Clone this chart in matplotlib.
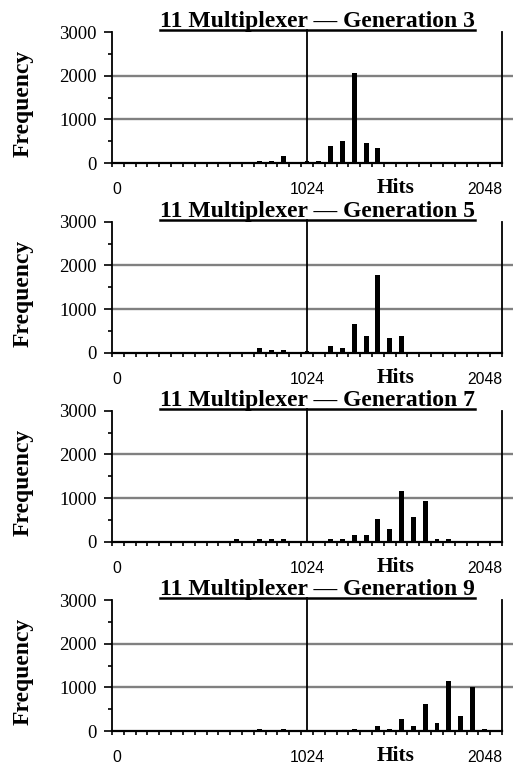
import matplotlib.pyplot as plt
from matplotlib.lines import Line2D

# hit-count bins (category centres, 64 hits apart)
hits = list(range(0, 2049, 64))
generations = [3, 5, 7, 9]

gen3 = [0, 0, 0, 0, 0, 0, 0, 0, 0, 0, 8, 8, 50, 50, 150, 8, 45, 50,
        380, 510, 2060, 465, 335, 8, 0, 0, 0, 0, 0, 0, 0, 0, 0]
gen5 = [0, 0, 0, 0, 0, 0, 0, 0, 0, 0, 8, 8, 100, 60, 55, 8, 40, 10,
        160, 115, 660, 390, 1790, 345, 390, 8, 0, 0, 0, 0, 0, 0, 0]
gen7 = [0, 0, 0, 0, 0, 0, 0, 0, 0, 8, 55, 8, 55, 60, 55, 8, 8, 8,
        55, 55, 155, 155, 520, 290, 1150, 565, 925, 55, 55, 8, 0, 0, 0]
gen9 = [0, 0, 0, 0, 0, 0, 0, 0, 0, 0, 0, 0, 55, 8, 55, 8, 8, 8,
        8, 8, 55, 8, 110, 55, 285, 108, 608, 192, 1155, 338, 1015, 55, 8]
freqs = [gen3, gen5, gen7, gen9]

serif = ['Liberation Serif', 'DejaVu Serif']
sans = ['Liberation Sans', 'DejaVu Sans']

fig = plt.figure(figsize=(5.13, 7.70), dpi=100)
bottoms = [0.7883, 0.5419, 0.2965, 0.0506]
W, H = 513, 770

titles = []
for gen, freq, b in zip(generations, freqs, bottoms):
    ax = fig.add_axes([112 / W, b, 390 / W, 131 / H])
    for y in [1000, 2000]:
        ax.axhline(y, xmin=0, xmax=(512 - 112) / 390, color='#808080',
                   lw=1.7, clip_on=False, zorder=0)
    ax.bar(hits, freq, width=27, color='black', zorder=3)
    ax.axvline(1024, ymin=0, ymax=(163 - 30) / 131, color='black', lw=1.3,
               clip_on=False, zorder=4)

    ax.set_xlim(-32, 2080)
    ax.set_ylim(0, 3000)
    ax.spines['top'].set_visible(False)
    ax.spines['left'].set_linewidth(1.3)
    ax.spines['right'].set_linewidth(1.3)
    ax.spines['bottom'].set_linewidth(1.6)

    # y axis
    ax.set_yticks([0, 1000, 2000, 3000])
    ax.set_yticks([500, 1500, 2500], minor=True)
    ax.tick_params(axis='y', which='major', length=6, width=1.2, pad=5)
    ax.tick_params(axis='y', which='minor', length=3, width=1.2)
    for lab in ax.get_yticklabels():
        lab.set_family(serif)
        lab.set_fontsize(13.5)

    # x axis: tick marks between categories, labels at ends and middle
    ax.xaxis.remove_overlapping_locs = False
    ax.set_xticks([h - 32 for h in hits] + [2080], minor=True)
    ax.set_xticks([-32, 1024, 2080])
    ax.set_xticklabels(['0', '1024', '2048'], family=sans, fontsize=11.3)
    ax.tick_params(axis='x', which='minor', length=3, width=1.2)
    ax.tick_params(axis='x', which='major', length=0, pad=14)
    xl = ax.get_xticklabels()
    xl[0].set_ha('left')
    xl[2].set_ha('right')

    ax.text((23.5 - 112) / 390, 0.454, 'Frequency', rotation=90,
            ha='center', va='center', fontsize=17, fontweight='bold',
            family=serif, transform=ax.transAxes)
    ax.text((396 - 112) / 390, -0.191, 'Hits', ha='center', va='center',
            fontsize=15.5, fontweight='bold', family=serif,
            transform=ax.transAxes)
    t = ax.text(0.526, 1 + 5 / 131, f'11 Multiplexer \u2014 Generation {gen}',
                ha='center', va='baseline', fontsize=17, fontweight='bold',
                family=serif, transform=ax.transAxes)
    titles.append((ax, t))

# underline the titles
fig.canvas.draw()
renderer = fig.canvas.get_renderer()
for ax, t in titles:
    bb = t.get_window_extent(renderer)
    base = ax.transAxes.transform((0, 1 + 5 / 131))[1] - 3
    x0, y0 = fig.transFigure.inverted().transform((bb.x0, base))
    x1, _ = fig.transFigure.inverted().transform((bb.x1, base))
    fig.add_artist(Line2D([x0, x1], [y0, y0], color='black', lw=1.8,
                          transform=fig.transFigure))

fig.savefig('out.png', dpi=100)
